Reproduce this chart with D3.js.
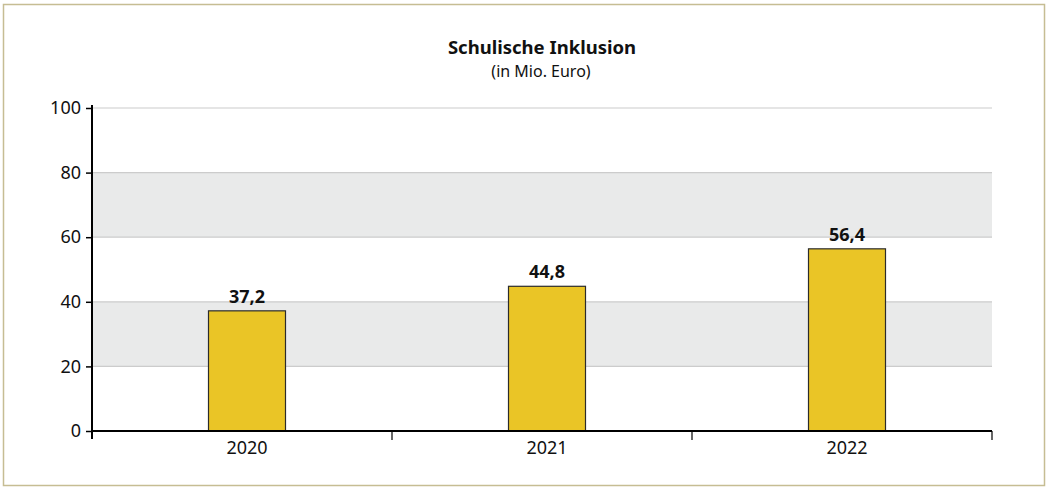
<!DOCTYPE html>
<html><head><meta charset="utf-8">
<script src="https://cdn.jsdelivr.net/npm/d3@7"></script>
<style>body{margin:0;background:#fff;} svg{display:block;font-family:"Noto Sans",sans-serif;}</style>
</head><body>
<svg id="c" width="1048" height="488"></svg>
<script>
const categories = ["2020", "2021", "2022"];
const values = [37.2, 44.8, 56.4];
const valueLabels = ["37,2", "44,8", "56,4"];
const yTicks = [0, 20, 40, 60, 80, 100];
const bandRanges = [[20, 40], [60, 80]];
const title = "Schulische Inklusion";
const subtitle = "(in Mio. Euro)";

const svg = d3.select("#c");
svg.append("rect").attr("x", 3.5).attr("y", 4.5).attr("width", 1041).attr("height", 481)
  .attr("fill", "#fff").attr("stroke", "#c6bd93").attr("stroke-width", 1.5);

const x0 = 92, x1 = 992, yTop = 108, yBot = 431;
const y = d3.scaleLinear().domain([0, 100]).range([yBot, yTop]);
const x = d3.scaleBand().domain(categories).range([x0, x1]);
const barW = 77, shift = 5;

// bands
svg.selectAll("rect.band").data(bandRanges).join("rect").attr("class", "band")
  .attr("x", x0).attr("width", x1 - x0)
  .attr("y", d => y(d[1])).attr("height", d => y(d[0]) - y(d[1]))
  .attr("fill", "#e9eaea");
// gridlines
svg.selectAll("line.grid").data(yTicks.filter(d => d > 0)).join("line").attr("class", "grid")
  .attr("x1", x0).attr("x2", x1).attr("y1", d => y(d)).attr("y2", d => y(d))
  .attr("stroke", "#cccccc").attr("stroke-width", 1.2);

// bars
svg.selectAll("rect.bar").data(values).join("rect").attr("class", "bar")
  .attr("x", (d, i) => x(categories[i]) + x.bandwidth() / 2 + shift - barW / 2)
  .attr("width", barW)
  .attr("y", d => y(d)).attr("height", d => yBot - y(d))
  .attr("fill", "#eac526").attr("stroke", "#2b2b2b").attr("stroke-width", 1.2);

svg.selectAll("text.val").data(values).join("text").attr("class", "val")
  .attr("x", (d, i) => x(categories[i]) + x.bandwidth() / 2 + shift)
  .attr("y", d => y(d) - 8)
  .attr("text-anchor", "middle").attr("font-size", 18).attr("font-weight", "bold").attr("fill", "#111")
  .text((d, i) => valueLabels[i]);

// y axis
const yAxis = d3.axisLeft(y).tickValues(yTicks).tickSize(6).tickPadding(5);
const gy = svg.append("g").attr("transform", `translate(${x0},0)`).call(yAxis);
gy.select(".domain").remove();
gy.selectAll(".tick line").attr("stroke", "#000").attr("stroke-width", 1.5);
gy.selectAll(".tick text").attr("font-size", 18).attr("fill", "#111").attr("font-family", "Noto Sans");
svg.append("line").attr("x1", x0).attr("x2", x0).attr("y1", yTop - 3).attr("y2", yBot + 8)
  .attr("stroke", "#000").attr("stroke-width", 2);

// x axis
const xAxis = d3.axisBottom(x).tickSize(0).tickPadding(10);
const gx = svg.append("g").attr("transform", `translate(${shift},${yBot})`).call(xAxis);
gx.select(".domain").remove();
gx.selectAll(".tick text").attr("font-size", 18).attr("fill", "#111").attr("font-family", "Noto Sans");
svg.append("line").attr("x1", x0).attr("x2", x1).attr("y1", yBot).attr("y2", yBot)
  .attr("stroke", "#000").attr("stroke-width", 2);
svg.selectAll("line.xt").data(categories).join("line").attr("class", "xt")
  .attr("x1", d => x(d) + x.bandwidth()).attr("x2", d => x(d) + x.bandwidth())
  .attr("y1", yBot).attr("y2", yBot + 9).attr("stroke", "#000").attr("stroke-width", 1.2);

// titles
svg.append("text").attr("x", 542).attr("y", 54).attr("text-anchor", "middle")
  .attr("font-size", 18.5).attr("font-weight", "bold").attr("fill", "#111").text(title);
svg.append("text").attr("x", 541).attr("y", 77).attr("text-anchor", "middle")
  .attr("font-size", 16).attr("fill", "#111").text(subtitle);
</script>
</body></html>
